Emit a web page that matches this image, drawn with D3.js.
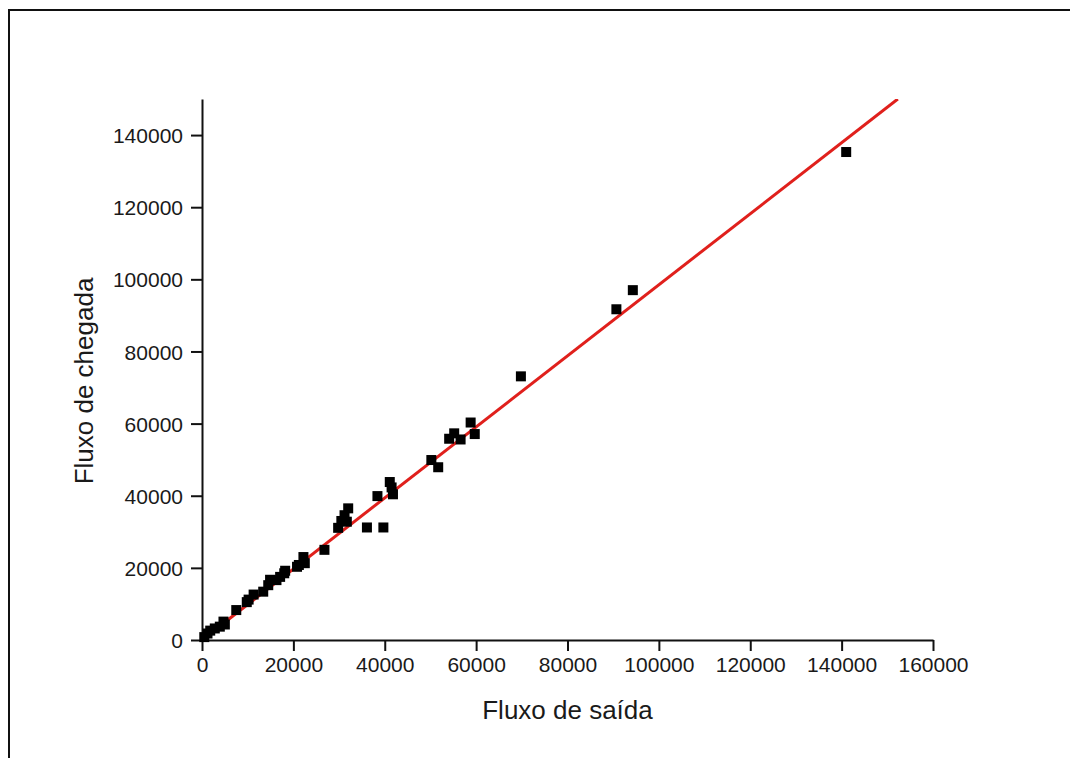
<!DOCTYPE html>
<html>
<head>
<meta charset="utf-8">
<script src="https://cdn.jsdelivr.net/npm/d3@7"></script>
<style>
  body { margin: 0; background: #fff; overflow: hidden; }
  svg { display: block; }
</style>
</head>
<body>
<div id="chart"></div>
<script>
"use strict";

// fluxo de saída (x) vs fluxo de chegada (y)
const saida = [500, 1200, 1800, 2800, 3900, 4700, 5000, 7500, 9800, 10200,
    11300, 13400, 14500, 14900, 16300, 17100, 18000, 18200, 20800, 21200,
    22200, 22500, 26800, 29800, 30500, 31200, 32000, 31700, 36100, 38400,
    39700, 41100, 41500, 41800, 50200, 51700, 54100, 55200, 56600, 58800,
    59700, 69800, 90700, 94300, 141000];
const chegada = [800, 1800, 2600, 3200, 3700, 5100, 4300, 8300, 10500, 11200,
    12600, 13400, 15200, 16700, 16600, 17500, 18500, 19200, 20300, 20800,
    23000, 21300, 25000, 31100, 33000, 34600, 36500, 32800, 31200, 39900,
    31200, 43800, 42300, 40400, 49900, 47900, 55800, 57300, 55600, 60300,
    57100, 73100, 91700, 97000, 135300];

// linear fit end points
const fitX = [0, 152300];
const fitY = [0, 150000];

const xTicks = [0, 20000, 40000, 60000, 80000, 100000, 120000, 140000, 160000];
const yTicks = [0, 20000, 40000, 60000, 80000, 100000, 120000, 140000];

const plot = {
    width: 1070,
    height: 758,
    left: 202,
    right: 933,
    top: 99,
    bottom: 640
}

const font = "Arial, 'Liberation Sans', sans-serif";

let svg = d3.select("#chart")
    .append("svg")
    .attr("width", plot.width)
    .attr("height", plot.height);

// outer frame: only the left and top edges show
svg.append("path")
    .attr("d", "M9," + plot.height + "V10H" + plot.width)
    .attr("fill", "none")
    .attr("stroke", "#111")
    .attr("stroke-width", 2);

let xScale = d3.scaleLinear()
    .domain([0, 160000])
    .range([plot.left, plot.right]);

let yScale = d3.scaleLinear()
    .domain([0, 150000])
    .range([plot.bottom, plot.top]);

svg.append("clipPath")
    .attr("id", "plotClip")
    .append("rect")
    .attr("x", plot.left)
    .attr("y", plot.top)
    .attr("width", plot.right - plot.left)
    .attr("height", plot.bottom - plot.top);

// minor ticks
let xMinor = d3.axisBottom(xScale)
    .tickValues(d3.range(10000, 160000, 20000))
    .tickSize(6)
    .tickFormat("");
let yMinor = d3.axisLeft(yScale)
    .tickValues(d3.range(10000, 160000, 20000))
    .tickSize(6)
    .tickFormat("");

let xAxis = d3.axisBottom(xScale)
    .tickValues(xTicks)
    .tickSize(11)
    .tickSizeOuter(0)
    .tickPadding(6)
    .tickFormat(d3.format("d"));
let yAxis = d3.axisLeft(yScale)
    .tickValues(yTicks)
    .tickSize(11)
    .tickSizeOuter(0)
    .tickPadding(8)
    .tickFormat(d3.format("d"));

let gx = svg.append("g")
    .attr("transform", "translate(0," + plot.bottom + ")");
gx.call(xMinor);
gx.call(xAxis);

let gy = svg.append("g")
    .attr("transform", "translate(" + plot.left + ",0)");
gy.call(yMinor);
gy.call(yAxis);

svg.selectAll(".domain").attr("stroke", "#111").attr("stroke-width", 2);
svg.selectAll(".tick line").attr("stroke", "#111").attr("stroke-width", 2);
svg.selectAll(".tick text")
    .attr("font-family", font)
    .attr("font-size", "21px")
    .attr("fill", "#1a1a1a");
gy.selectAll(".tick text").attr("dy", "0.36em");

// fit line
let line = d3.line()
    .x((d) => xScale(d[0]))
    .y((d) => yScale(d[1]));

svg.append("path")
    .datum(fitX.map((x, i) => [x, fitY[i]]))
    .attr("clip-path", "url(#plotClip)")
    .attr("fill", "none")
    .attr("stroke", "#e0201c")
    .attr("stroke-width", 3)
    .attr("d", line);

// data points
const size = 10;
svg.selectAll(".dot")
    .data(saida.map((x, i) => ({ x: x, y: chegada[i] })))
    .enter()
    .append("rect")
    .attr("class", "dot")
    .attr("x", (d) => xScale(d.x) - size / 2)
    .attr("y", (d) => yScale(d.y) - size / 2)
    .attr("width", size)
    .attr("height", size)
    .attr("fill", "#000");

// axis titles
svg.append("text")
    .attr("x", (plot.left + plot.right) / 2)
    .attr("y", 719)
    .attr("text-anchor", "middle")
    .attr("font-family", font)
    .attr("font-size", "26px")
    .attr("fill", "#1a1a1a")
    .text("Fluxo de saída");

svg.append("text")
    .attr("transform", "translate(93," + 381 + ") rotate(-90)")
    .attr("text-anchor", "middle")
    .attr("font-family", font)
    .attr("font-size", "26px")
    .attr("fill", "#1a1a1a")
    .text("Fluxo de chegada");
</script>
</body>
</html>
